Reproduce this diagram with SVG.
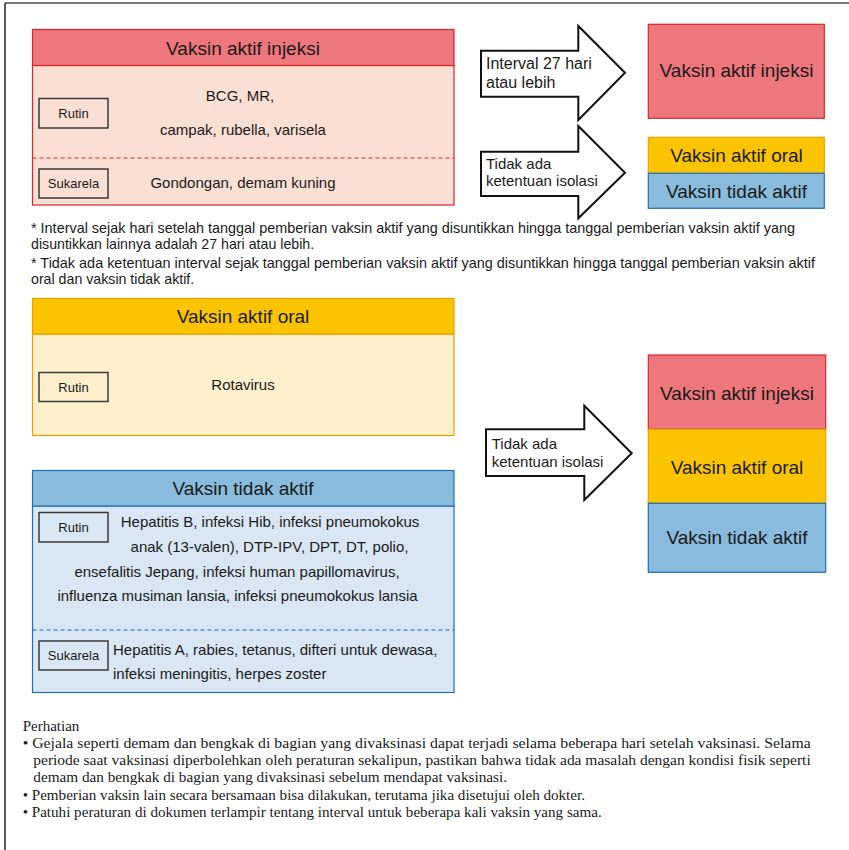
<svg xmlns="http://www.w3.org/2000/svg" width="849" height="850" viewBox="0 0 849 850">
<style>
  .s { font-family: "Liberation Sans", Arial, sans-serif; fill: #1a1a1a; }
  .ser { font-family: "Liberation Serif", "Times New Roman", serif; fill: #1a1a1a; font-size: 15px; }
  .hd { font-size: 19px; text-anchor: middle; }
  .bd { font-size: 15px; }
  .c { text-anchor: middle; }
  .lab { font-size: 13px; text-anchor: middle; }
  .tag { fill: none; stroke: #3a3a3a; stroke-width: 1.5; }
  .arrow { fill: #ffffff; stroke: #111111; stroke-width: 2; stroke-linejoin: miter; }
  .fn { font-size: 14.2px; }
  .redH { fill: #EE767D; stroke: #D8262C; stroke-width: 1.2; }
  .redB { fill: #FADFD4; stroke: #D8262C; stroke-width: 1.2; }
  .orH { fill: #FBC400; stroke: #E8A200; stroke-width: 1.2; }
  .orB { fill: #FDEFCC; stroke: #E8A200; stroke-width: 1.2; }
  .blH { fill: #88BBDC; stroke: #1F6FB8; stroke-width: 1.2; }
  .blB { fill: #D9E7F4; stroke: #1F6FB8; stroke-width: 1.2; }
</style>

<!-- frame -->
<g id="frame">
  <line x1="5" y1="3" x2="849" y2="3" stroke="#7a7a7a" stroke-width="2"/>
  <line x1="5" y1="3" x2="5" y2="850" stroke="#222" stroke-width="1.5"/>
</g>

<!-- Box 1: Vaksin aktif injeksi -->
<g id="box-injeksi">
  <rect class="redB" x="32.5" y="65.5" width="421.5" height="139.5"/>
  <rect class="redH" x="32.5" y="29.5" width="421.5" height="36"/>
  <line x1="32.5" y1="158" x2="454" y2="158" stroke="#D8262C" stroke-width="1.2" stroke-dasharray="4,3"/>
  <text class="s hd" x="243" y="55">Vaksin aktif injeksi</text>
  <rect class="tag" x="39" y="98.5" width="69" height="29.5"/>
  <text class="s lab" x="73.5" y="117.5">Rutin</text>
  <text class="s bd c" x="240" y="100.5">BCG, MR,</text>
  <text class="s bd c" x="243" y="135">campak, rubella, varisela</text>
  <rect class="tag" x="39" y="169" width="69" height="29"/>
  <text class="s lab" x="73.5" y="188">Sukarela</text>
  <text class="s bd c" x="243" y="188">Gondongan, demam kuning</text>
</g>

<!-- Box 2: Vaksin aktif oral -->
<g id="box-oral">
  <rect class="orB" x="32.5" y="334" width="421.5" height="101.5"/>
  <rect class="orH" x="32.5" y="298.5" width="421.5" height="35.5"/>
  <text class="s hd" x="243" y="323">Vaksin aktif oral</text>
  <rect class="tag" x="39" y="372.5" width="69" height="29"/>
  <text class="s lab" x="73.5" y="391.5">Rutin</text>
  <text class="s bd c" x="243" y="389.5">Rotavirus</text>
</g>

<!-- Box 3: Vaksin tidak aktif -->
<g id="box-tidak-aktif">
  <rect class="blB" x="32.5" y="506" width="421.5" height="186.5"/>
  <rect class="blH" x="32.5" y="470.5" width="421.5" height="35.5"/>
  <line x1="32.5" y1="630" x2="454" y2="630" stroke="#1F6FB8" stroke-width="1.2" stroke-dasharray="4,3"/>
  <text class="s hd" x="243" y="494.5">Vaksin tidak aktif</text>
  <rect class="tag" x="39" y="512.5" width="69" height="29.5"/>
  <text class="s lab" x="73.5" y="531.5">Rutin</text>
  <text class="s bd c" x="270" y="527">Hepatitis B, infeksi Hib, infeksi pneumokokus</text>
  <text class="s bd c" x="269.5" y="552">anak (13-valen), DTP-IPV, DPT, DT, polio,</text>
  <text class="s bd c" x="237" y="576.5">ensefalitis Jepang, infeksi human papillomavirus,</text>
  <text class="s bd c" x="237.5" y="601">influenza musiman lansia, infeksi pneumokokus lansia</text>
  <rect class="tag" x="39" y="641" width="69" height="29"/>
  <text class="s lab" x="73.5" y="660">Sukarela</text>
  <text class="s bd" x="113" y="655">Hepatitis A, rabies, tetanus, difteri untuk dewasa,</text>
  <text class="s bd" x="113" y="678.5">infeksi meningitis, herpes zoster</text>
</g>

<!-- Right top -->
<g id="arrow-interval">
  <polygon class="arrow" points="481,50.7 578.3,50.7 578.3,26 625,72.7 578.3,120 578.3,96.7 481,96.7"/>
  <text class="s" font-size="16" x="486" y="68.5">Interval 27 hari</text>
  <text class="s" font-size="16" x="486" y="87.5">atau lebih</text>
</g>
<g id="r-injeksi">
  <rect class="redH" x="648.3" y="24.3" width="176" height="94"/>
  <text class="s hd" x="736.5" y="77">Vaksin aktif injeksi</text>
</g>
<g id="arrow-tidak-ada-1">
  <polygon class="arrow" points="481,151.7 578.3,151.7 578.3,126 625,172.7 578.3,218.3 578.3,196 481,196"/>
  <text class="s" font-size="15" x="486" y="168.5">Tidak ada</text>
  <text class="s" font-size="15" x="486" y="186">ketentuan isolasi</text>
</g>
<g id="r-oral-1">
  <rect class="orH" x="648.3" y="137.3" width="176" height="36"/>
  <text class="s hd" x="736.5" y="162">Vaksin aktif oral</text>
</g>
<g id="r-tidak-aktif-1">
  <rect class="blH" x="648.3" y="173.3" width="176" height="35"/>
  <text class="s hd" x="736.5" y="197.5">Vaksin tidak aktif</text>
</g>

<!-- Footnotes -->
<g id="footnotes">
  <text class="s fn" x="31" y="233" textLength="764" lengthAdjust="spacingAndGlyphs">* Interval sejak hari setelah tanggal pemberian vaksin aktif yang disuntikkan hingga tanggal pemberian vaksin aktif yang</text>
  <text class="s fn" x="31" y="249">disuntikkan lainnya adalah 27 hari atau lebih.</text>
  <text class="s fn" x="31" y="268" textLength="784" lengthAdjust="spacingAndGlyphs">* Tidak ada ketentuan interval sejak tanggal pemberian vaksin aktif yang disuntikkan hingga tanggal pemberian vaksin aktif</text>
  <text class="s fn" x="31" y="283.5">oral dan vaksin tidak aktif.</text>
</g>

<!-- Right bottom -->
<g id="arrow-tidak-ada-2">
  <polygon class="arrow" points="486,429.3 584.3,429.3 584.3,405.7 631.7,453.3 584.3,500 584.3,476 486,476"/>
  <text class="s" font-size="15" x="491.7" y="449">Tidak ada</text>
  <text class="s" font-size="15" x="491.7" y="466.7">ketentuan isolasi</text>
</g>
<g id="r-injeksi-2">
  <rect class="redH" x="648.3" y="355" width="177.4" height="74.3"/>
  <text class="s hd" x="737" y="399.5">Vaksin aktif injeksi</text>
</g>
<g id="r-oral-2">
  <rect class="orH" x="648.3" y="429.3" width="177.4" height="74"/>
  <text class="s hd" x="737" y="473.5">Vaksin aktif oral</text>
</g>
<g id="r-tidak-aktif-2">
  <rect class="blH" x="648.3" y="503.3" width="177.4" height="69"/>
  <text class="s hd" x="737" y="544">Vaksin tidak aktif</text>
</g>

<!-- Notes -->
<g id="notes">
  <text class="ser" x="22.7" y="730.7">Perhatian</text>
  <text class="ser" x="22.7" y="748.3" textLength="788" lengthAdjust="spacingAndGlyphs">• Gejala seperti demam dan bengkak di bagian yang divaksinasi dapat terjadi selama beberapa hari setelah vaksinasi. Selama</text>
  <text class="ser" x="33.3" y="765" textLength="777.4" lengthAdjust="spacingAndGlyphs">periode saat vaksinasi diperbolehkan oleh peraturan sekalipun, pastikan bahwa tidak ada masalah dengan kondisi fisik seperti</text>
  <text class="ser" x="33.3" y="781.7" textLength="473.7" lengthAdjust="spacingAndGlyphs">demam dan bengkak di bagian yang divaksinasi sebelum mendapat vaksinasi.</text>
  <text class="ser" x="22.7" y="800" textLength="562.3" lengthAdjust="spacingAndGlyphs">• Pemberian vaksin lain secara bersamaan bisa dilakukan, terutama jika disetujui oleh dokter.</text>
  <text class="ser" x="22.7" y="817.3" textLength="579" lengthAdjust="spacingAndGlyphs">• Patuhi peraturan di dokumen terlampir tentang interval untuk beberapa kali vaksin yang sama.</text>
</g>
</svg>
